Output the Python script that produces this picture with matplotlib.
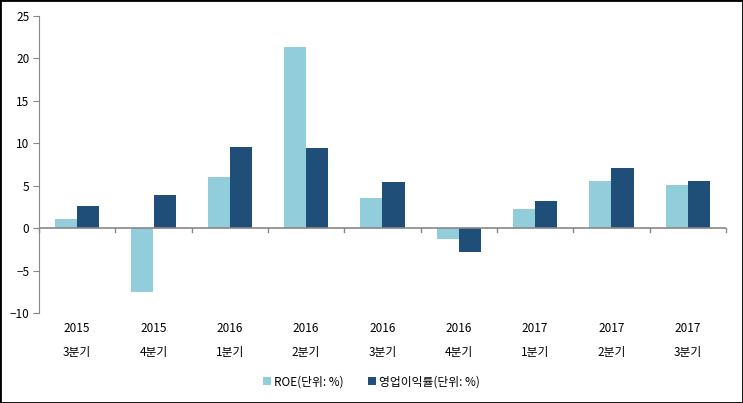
import matplotlib
matplotlib.use("Agg")
import matplotlib.pyplot as plt
import numpy as np

plt.rcParams["font.family"] = ["Noto Sans CJK KR", "DejaVu Sans"]

years = ["2015", "2015", "2016", "2016", "2016", "2016", "2017", "2017", "2017"]
quarters = ["3분기", "4분기", "1분기", "2분기", "3분기", "4분기", "1분기", "2분기", "3분기"]
roe = [1.1, -7.5, 6.0, 21.3, 3.5, -1.3, 2.2, 5.5, 5.1]
op_margin = [2.6, 3.9, 9.6, 9.5, 5.4, -2.8, 3.2, 7.1, 5.5]

fig = plt.figure(figsize=(7.43, 4.03), dpi=100)
ax = fig.add_axes([39 / 743, 90 / 403, 687 / 743, 297 / 403])

x = np.arange(len(years))
w = 0.29
ax.bar(x - w / 2, roe, w, color="#92CDDC", label="ROE(단위: %)")
ax.bar(x + w / 2, op_margin, w, color="#1F4E79", label="영업이익률(단위: %)")

ax.set_xlim(-0.5, len(years) - 0.5)
ax.set_ylim(-10, 25)
ax.set_yticks(range(-10, 26, 5))
ax.tick_params(axis="y", direction="out", length=4, color="#888888", labelsize=8.5, pad=3)

for s in ["top", "right", "bottom"]:
    ax.spines[s].set_visible(False)
ax.spines["left"].set_color("#888888")
ax.axhline(0, color="#888888", lw=1.2, zorder=3)

# category boundary ticks on the zero line
ax.set_xticks([])
for b in np.arange(-0.5, len(years), 1.0):
    ax.plot([b, b], [0, -0.5], color="#888888", lw=1, clip_on=False, zorder=3)

for i in range(len(years)):
    ax.text(i, -11.1, years[i] + "\n" + quarters[i], ha="center", va="top",
            fontsize=8.5, linespacing=2.1)

fig.legend(loc="lower center", bbox_to_anchor=(0.5, 0.01), ncol=2, frameon=False,
           fontsize=8.5, handlelength=0.7, handleheight=0.7, handletextpad=0.3,
           columnspacing=2.0)

fig.add_artist(plt.Rectangle((0, 0), 1, 1, transform=fig.transFigure,
                             fill=False, ec="black", lw=2))

fig.savefig("out.png", dpi=100)
